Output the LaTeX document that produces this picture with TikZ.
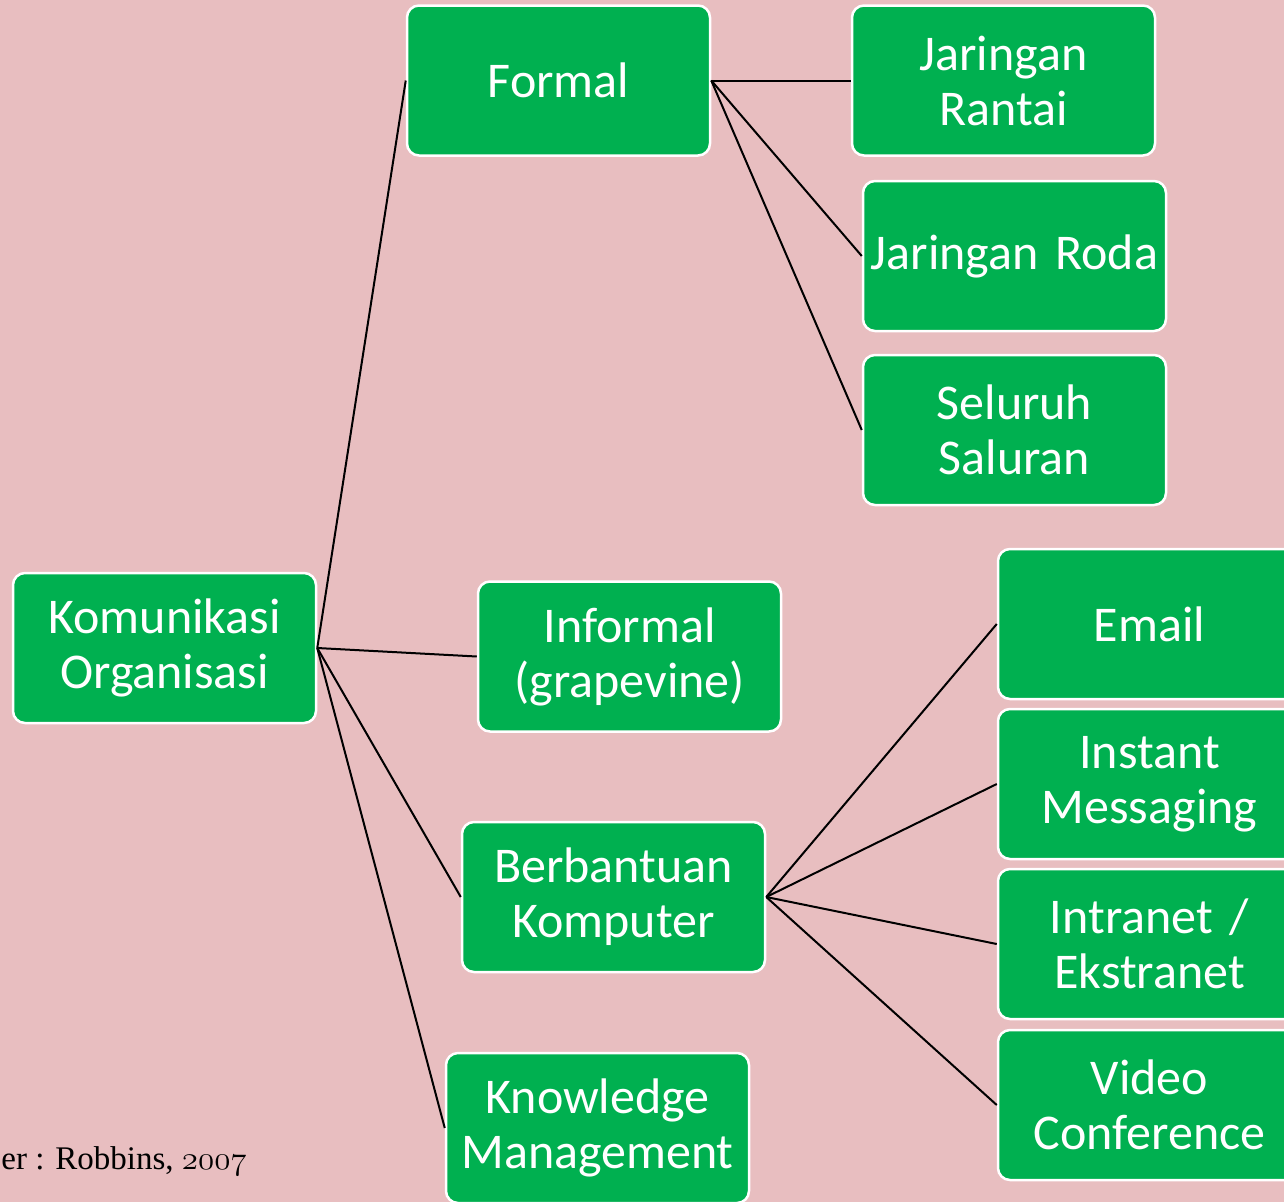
\RequirePackage{fix-cm}
\documentclass[tikz,border=0pt]{standalone}
\usepackage{fontspec}
\newfontfamily\boxfont{Carlito}
\newfontfamily\srcfont{Liberation Serif}
\usetikzlibrary{positioning}
\definecolor{mypink}{RGB}{232,190,192}
\definecolor{mygreen}{RGB}{0,176,80}

\begin{document}
\begin{tikzpicture}[x=1pt,y=-1pt,thick,
    box/.style={draw=white,line width=2.5pt,fill=mygreen,rounded corners=12pt,
      minimum width=303pt,minimum height=150pt,text width=300pt,align=center,
      inner sep=0pt,text=white,font=\boxfont\fontsize{50}{55}\selectfont},
    link/.style={black,line width=2pt}
  ]

  % the background
  \fill[mypink] (0,0) rectangle (1284,1202);
  \useasboundingbox (0,0) rectangle (1284,1202);

  % the root
  \node[box] (k) at (164.5,648) {Komunikasi\\Organisasi};

  % the first level
  \foreach \i/\xcoord/\ycoord/\txt in {1/558.5/80.5/Formal,2/629.5/656.5/{Informal\\(grapevine)},
      3/613.5/897/{Berbantuan\\Komputer},4/597.5/1128/{Knowledge\\Management}}
    \node[box] (c\i) at (\xcoord,\ycoord) {\txt};

  % the kinds of formal networks
  \foreach \i/\xcoord/\ycoord/\txt in {1/1003.5/80.5/{Jaringan\\Rantai},2/1014.5/256/Jaringan Roda,
      3/1014.5/430/{Seluruh\\Saluran}}
    \node[box] (f\i) at (\xcoord,\ycoord) {\txt};

  % the computer aided media
  \foreach \i/\ycoord/\txt in {1/624/Email,2/784/{Instant\\Messaging},3/944/{Intranet /\\Ekstranet},
      4/1105/{Video\\Conference}}
    \node[box] (b\i) at (1149.5,\ycoord) {\txt};

  % the source
  \node[anchor=base west,inner sep=0pt,font=\srcfont\fontsize{33}{36}\selectfont] (src) at (1,1169)
    {er : Robbins, $\mathnormal{2007}$};

  % the edges
  \foreach \i in {1,...,4}
    \draw[link] (k.east) -- (c\i.west);
  \foreach \i in {1,...,3}
    \draw[link] (c1.east) -- (f\i.west);
  \foreach \i in {1,...,4}
    \draw[link] (c3.east) -- (b\i.west);
\end{tikzpicture}
\end{document}
